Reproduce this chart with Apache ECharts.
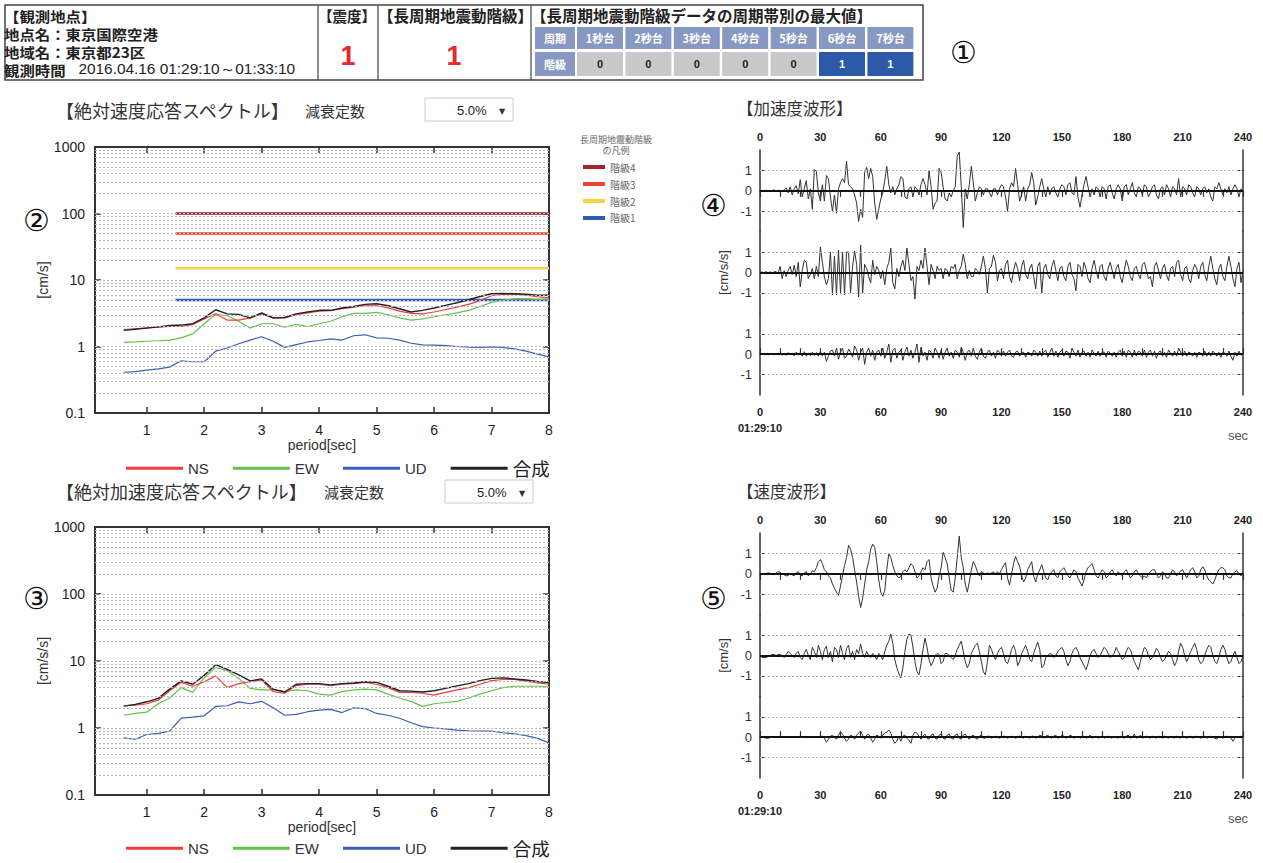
<!DOCTYPE html>
<html><head><meta charset="utf-8">
<script src="https://cdn.jsdelivr.net/npm/echarts@6/dist/echarts.min.js"></script>
<style>html,body{margin:0;padding:0;background:#fff}#c{width:1263px;height:863px}</style>
</head><body><div id="c"></div><script>
// ---------- data ----------
const periods = [0.6,0.8,1.0,1.2,1.4,1.6,1.8,2.0,2.2,2.4,2.6,2.8,3.0,3.2,3.4,3.6,3.8,4.0,4.2,4.4,4.6,4.8,5.0,5.2,5.4,5.6,5.8,6.0,6.2,6.4,6.6,6.8,7.0,7.2,7.4,7.6,7.8,8.0];
const velNS  = [1.8,1.85,1.9,1.95,2.0,2.0,2.15,2.6,3.1,2.5,2.5,2.7,3.1,2.7,2.7,3.0,3.2,3.4,3.45,3.7,3.9,4.1,4.1,3.8,3.4,3.15,3.1,3.3,3.6,3.9,4.3,4.9,5.8,6.1,6.1,5.9,5.6,5.4];
const velEW  = [1.15,1.17,1.2,1.22,1.25,1.35,1.55,2.2,3.05,2.9,2.4,1.9,2.2,2.2,1.95,2.15,2.0,2.2,2.4,2.8,3.15,3.15,3.25,3.0,2.7,2.5,2.6,2.8,3.0,3.2,3.5,4.0,4.6,5.0,5.2,5.2,5.1,5.1];
const velUD  = [0.41,0.42,0.44,0.46,0.49,0.61,0.59,0.59,0.85,0.95,1.1,1.25,1.4,1.2,0.97,1.07,1.17,1.23,1.3,1.25,1.45,1.5,1.35,1.33,1.25,1.12,1.06,1.05,1.03,1.0,0.98,0.97,0.99,0.97,0.92,0.85,0.77,0.7];
const velSum = [1.75,1.82,1.89,1.97,2.07,2.1,2.2,2.7,3.57,3.1,3.04,2.7,3.2,2.7,2.73,3.1,3.3,3.5,3.5,3.8,4.0,4.3,4.4,4.1,3.7,3.3,3.5,3.8,4.15,4.55,5.05,5.65,6.2,6.3,6.2,6.1,5.9,5.9];
const accNS  = [2.15,2.2,2.3,2.6,3.6,4.8,4.2,4.9,6.0,4.0,4.6,4.9,5.2,3.5,3.3,4.3,4.5,4.5,4.3,4.5,4.6,4.8,4.5,4.0,3.4,3.4,3.3,3.1,3.4,3.7,4.0,4.5,5.1,5.3,5.3,5.0,4.7,4.5];
const accEW  = [1.55,1.65,1.72,2.3,2.8,4.0,3.4,5.6,8.0,7.2,5.5,3.9,3.7,3.7,3.5,3.7,3.6,3.2,3.1,3.5,3.7,3.8,3.7,3.2,2.8,2.5,2.1,2.3,2.4,2.5,2.8,3.2,3.6,4.0,4.2,4.2,4.2,4.1];
const accUD  = [0.71,0.68,0.8,0.83,0.9,1.4,1.45,1.52,2.1,2.15,2.45,2.3,2.5,2.0,1.55,1.6,1.75,1.85,1.9,1.7,2.0,1.95,1.65,1.55,1.4,1.2,1.05,1.0,0.97,0.93,0.91,0.9,0.9,0.85,0.82,0.77,0.7,0.6];
const accSum = [2.12,2.25,2.46,2.77,3.8,5.05,4.5,6.1,8.8,7.5,6.2,5.05,5.4,3.8,3.45,4.5,4.6,4.6,4.4,4.6,4.7,4.9,4.8,4.2,3.6,3.55,3.45,3.6,3.9,4.25,4.6,5.1,5.5,5.6,5.4,5.2,4.95,4.75];

const levelNames  = ['階級4','階級3','階級2','階級1'];
const levelValues = [100,50,15,5];
const levelColors = ['#a3232f','#f2412f','#f6d545','#2f5db4'];
const levelFrom = 1.5, levelTo = 8;

const periodBands = ['1秒台','2秒台','3秒台','4秒台','5秒台','6秒台','7秒台'];
const bandLevels  = [0,0,0,0,0,1,1];
const shindo = '1';
const lpLevel = '1';

const logGridValues = [0.2,0.3,0.4,0.5,0.6,0.7,0.8,0.9,1,2,3,4,5,6,7,8,9,10,20,30,40,50,60,70,80,90,100,200,300,400,500,600,700,800,900];
const waveTicks = [-1,0,1];
const DT = 1; // seconds per sample

const accWave1 = [0,0.03,-0.02,0.04,0,-0.03,0.02,0.05,-0.02,0.03,
0,-0.04,0.05,0.15,-0.1,0.2,-0.2,0.1,0.25,-0.15,
0.55,-0.3,0.1,0.5,-0.4,0.1,-0.9,1.05,0.95,-0.1,
-0.5,0.3,-0.5,0.75,0.6,-0.3,-1.0,-0.2,-1.1,0.1,
0.4,0.6,0.4,1.45,0.3,0.2,0.1,-0.2,-0.6,-1.5,
-0.9,-1.3,0.9,1.15,0.6,1.1,0.7,-0.6,-1.4,-0.9,
-0.4,-0.1,0.5,1.2,0.3,-0.1,0.2,-0.2,0.1,0.3,
0.7,0.6,-0.3,-0.4,0.1,0.2,-0.3,0.2,0.1,-0.2,
0.3,0.6,0.3,-0.2,1.0,0.2,-0.9,-0.6,-0.5,1.1,
0.9,0.2,-0.4,-0.5,-0.1,-0.3,0,0.2,1.7,1.9,
0.2,-1.8,0.1,-0.4,0.3,1.2,0.4,-0.5,-0.1,0.2,
0.1,-0.2,0.1,0.1,-0.1,-0.3,0.1,0.1,-0.2,0.1,
0.3,
0.2,-0.3,-1.0,0.1,0.4,0.2,1.1,0.3,-0.5,-0.2,
0.2,-0.5,0.1,0.3,0.9,0.4,-0.7,-0.3,0.2,0.6,
0.1,-0.3,0.2,-0.2,0.1,0.2,-0.1,-0.3,0.1,0.3,
0.2,-0.2,0.3,0.4,-0.1,-0.2,0.7,-0.3,-0.8,-0.2,
0.3,0.7,0.2,-0.3,0.1,-0.2,0.2,0.1,-0.3,0.2,
0.1,-0.4,0.2,0.3,-0.1,-0.4,0.1,0.3,0.1,-0.5,
0.2,0.3,-0.2,0.1,0.4,-0.1,-0.3,0.2,0.1,-0.2,
0.3,0.2,-0.3,-0.1,0.2,0.3,-0.2,-0.4,0.1,0.2,
-0.2,0.3,0.1,-0.3,0.2,0.1,-0.2,0.6,-0.3,0.2,
0.1,-0.2,0.3,0.2,-0.1,-0.3,0.2,0.1,-0.2,0.1,
0.2,-0.1,0.1,-0.3,-0.5,0.2,0.1,0.4,0.1,-0.2,
0.1,-0.1,0.2,-0.2,0.1,0.3,0.1,-0.3,0.1,0];
const accWave2 = [0,0.03,-0.03,0.05,-0.02,0.04,-0.05,0.03,0.05,-0.05,
0.3,-0.3,0.1,-0.2,0.1,0.3,-0.1,0.35,-0.2,0.5,
-0.7,0.1,0.6,0.5,-0.3,-0.1,0.2,-0.3,0.3,-0.2,
1.25,0.5,-0.2,-0.6,-0.3,1.0,-1.1,0.8,-1.1,1.1,
-1.0,1.0,-1.1,1.0,1.0,-1.0,0.3,1.05,0.4,-1.2,
1.35,-1.0,0.4,0.2,-0.2,-0.5,0.6,-0.1,0.3,0.1,
-0.3,0.1,-0.6,0.2,0.5,1.2,-0.5,-0.8,0.2,-0.2,
0.3,0.6,0.1,1.2,0.4,-0.4,-0.2,-1.3,0.3,0.1,
0.6,0.2,1.2,0.3,-0.6,0.4,0.1,-0.3,0.3,0.1,
0.2,-0.3,0.2,0.1,-0.2,0.3,0.2,0.4,-0.3,0.1,
0.3,0.9,0.4,-0.3,0.1,-0.2,-0.2,0.2,0.1,-0.1,
0.3,0.8,0.2,-1.0,0.2,0.3,0.85,0.5,-0.4,0.1,
0.2,
-0.3,0.4,0.6,-0.2,-0.5,0.1,0.5,0.2,-0.4,0.3,
0.6,-0.1,-0.3,0.2,0.4,-0.2,-0.8,0.3,0.5,-1.0,
0.2,0.4,-0.1,-0.3,0.3,0.6,0.1,-0.4,0.2,0.3,
-0.2,-0.4,0.3,0.5,-0.1,-0.3,-0.9,0.4,0.3,-0.2,
0.5,0.2,-0.3,-0.5,0.2,0.6,0.1,-0.3,0.3,0.4,
-0.2,-0.4,0.2,0.5,0.1,-0.3,0.2,0.4,-0.2,-0.5,
0.1,0.6,0.3,-0.2,-0.4,0.2,0.3,-0.1,-0.3,0.4,
0.5,0.1,-0.3,-0.2,-0.7,0.3,0.5,0.1,-0.3,0.2,
0.4,-0.1,-0.4,0.2,0.3,-0.2,0.5,0.6,-0.1,-0.4,
0.2,0.3,-0.3,-0.5,0.1,0.4,0.2,-0.3,0.3,0.5,
-0.1,-0.4,0.3,0.8,0.2,-0.3,-0.6,0.2,0.4,-0.2,
-0.4,0.3,0.8,0.3,-0.3,-0.7,0.2,0.5,-0.5,0.1];
const accWave3 = [0,0.02,-0.03,0.02,-0.04,0.03,0,-0.03,0.04,-0.02,
0.03,-0.05,0.04,-0.06,0.08,-0.04,0.05,-0.08,0.1,-0.05,
0.08,-0.1,0.12,-0.1,0.06,-0.08,0.1,-0.06,0.08,-0.1,
0.12,-0.08,0.1,-0.35,-0.1,0.15,0.2,-0.1,0.3,-0.25,
0.1,0.3,-0.2,-0.1,0.25,0.1,-0.15,0.4,0.2,-0.3,
0.1,0.3,-0.5,0.1,0.3,-0.1,0.2,-0.3,0.1,0.2,
-0.1,0.3,-0.2,0.1,0.5,-0.4,0.2,0.3,-0.2,0.1,
0.2,-0.3,0.1,0.35,-0.1,0.2,-0.2,0.1,0.5,-0.4,
0.35,-0.1,0.1,-0.3,0.2,0.1,-0.2,0.3,0.1,-0.2,
0.2,-0.25,0.1,0.3,-0.1,0.1,-0.2,0.2,0.1,-0.15,
0.35,0.1,-0.3,0.1,0.2,-0.1,0.3,-0.1,-0.25,0.1,
0.3,-0.1,-0.2,0.1,0.2,-0.1,0.1,-0.2,0.2,0.1,
-0.1,
0.15,-0.1,0.1,0.2,-0.1,-0.15,0.1,0.15,-0.1,0.05,
0.1,-0.15,0.1,0.05,-0.1,0.2,0.1,-0.1,0.15,-0.1,
0.1,0.2,-0.15,0.1,0.3,-0.1,0.15,-0.15,0.1,0.2,
-0.1,0.15,0.1,-0.2,0.3,0.1,-0.1,0.2,-0.15,0.1,
0.15,-0.1,0.1,-0.15,0.2,0.05,-0.1,0.15,-0.1,0.1,
0.1,-0.15,0.15,0.05,-0.1,0.1,-0.15,0.1,0.2,-0.1,
0.15,-0.15,0.2,0.1,-0.15,0.2,-0.1,0.15,0.1,-0.1,
0.2,-0.15,0.1,0.2,-0.1,0.15,-0.2,0.1,0.15,-0.1,
0.1,-0.15,0.2,0.05,-0.1,0.15,-0.1,0.3,0.1,-0.1,
0.15,-0.1,0.1,0.05,-0.1,0.1,-0.15,0.1,0.05,-0.1,
0.15,-0.1,0.1,-0.1,0.15,0.05,-0.1,0.1,-0.15,0.1,
0.05,-0.1,0.15,-0.1,-0.3,0.1,-0.1,0.15,-0.05,0];
const velWave1 = [0,0,-0.02,0.02,0.05,0.03,-0.02,-0.05,0.05,0.1,
0.08,0,-0.05,-0.1,-0.08,0,-0.05,-0.1,0.05,0.1,
-0.05,-0.1,0.05,0.1,-0.1,0,0.15,0.1,0.3,0.6,
0.7,0.5,0.2,0.1,-0.1,-0.2,-0.5,-0.7,-0.9,-1.05,
-0.6,-0.1,0.4,0.8,1.4,1.2,0.8,0.2,-0.4,-1.1,
-1.65,-1.2,-0.5,0.2,0.6,1.2,1.45,1.3,0.6,-0.3,
-0.9,-1.1,-0.8,0.2,1.0,0.8,0.4,0.1,-0.1,-0.2,
-0.1,0.1,0.2,0.1,0.3,0.5,0.4,0.1,-0.2,-0.1,
0.1,0.3,0.2,0.6,0.7,-0.2,-0.6,-0.9,-0.7,-0.1,
0.3,1.05,0.8,0.5,-0.2,-0.8,-0.9,-0.2,0.8,1.85,
0.8,0.3,-0.5,-0.9,-0.4,0.2,0.6,0.4,0.1,-0.1,
0.1,0.05,-0.05,0.05,0,0.05,0.1,-0.05,0.1,0,
0.2,0.4,0.55,-0.2,-0.55,0,0.5,0.85,0.6,0.35,
-0.1,-0.4,-0.2,0.2,0.4,0.6,-0.1,-0.4,0,0.2,
0.45,0.1,-0.2,-0.3,0,0.1,0.2,-0.1,-0.2,0.1,
0.2,0.3,0.1,-0.1,-0.2,0,0.2,0.1,-0.2,-0.4,
-0.6,-0.3,0.1,0.3,0.4,0.5,0.2,-0.1,-0.2,0,
0.2,0.1,-0.2,-0.1,0.1,0.2,0,-0.1,0.1,0,
-0.1,0.1,0.2,0,-0.2,-0.1,0.1,0.2,0,-0.1,
-0.2,-0.1,-0.2,0,0.1,0.2,0.2,0,-0.2,-0.1,
0.1,0,-0.2,-0.2,0,0.2,0.1,-0.1,0,0.15,
0.2,0,-0.2,0,0.2,0.3,0.1,-0.2,-0.1,0.2,
0.35,0.2,-0.1,-0.3,-0.4,-0.5,-0.3,0,0.2,0.3,
0.3,0.2,-0.1,-0.2,-0.2,0,0.1,0.15,0,-0.1,0.1];
const velWave2 = [0,-0.1,-0.1,-0.1,-0.05,0,0.05,0.05,0,0.05,
0.05,0,-0.1,0.05,0.2,0.1,0,-0.1,0.1,0.2,
-0.1,-0.2,0.1,0.3,0,-0.2,0.4,0.2,-0.1,0.5,
0.2,-0.2,0.3,0.45,-0.1,0.2,-0.3,0.4,0.3,-0.1,
0.5,0.1,-0.2,0.35,0.5,-0.1,0.2,-0.2,0.3,0.1,
0.55,0.1,-0.1,0.2,0,-0.1,0.1,0,-0.2,0.1,
0,-0.2,0.2,0.5,0.7,1.05,0.6,-0.2,-0.6,-0.9,
-1.1,-0.6,0.2,0.8,1.05,1.0,0.4,-0.3,-0.8,-0.95,
-0.4,0.3,0.85,0.4,-0.2,-0.5,-0.3,0,0.1,0.05,
-0.4,-0.3,0.1,0.1,0,-0.1,-0.2,0,0.3,0.5,
0.7,0.2,-0.3,-0.6,-0.4,0.1,0.3,0.5,0.6,0.2,
-0.3,-0.8,-0.95,-0.3,0.5,0.3,0,-0.2,0.1,0.3,
0.4,0.1,-0.3,-0.4,-0.1,0.3,0.5,0.2,-0.5,-0.3,
0.1,0.3,0.5,0.2,-0.2,-0.3,0.1,0.4,0.65,0.3,
-0.6,-0.5,-0.1,0,0.1,0.05,-0.1,0,0.2,0.3,
0.4,0.2,-0.2,-0.5,-0.3,0.1,0.3,0.4,0.2,-0.1,
-0.3,-0.5,-0.7,-0.4,0,0.2,0.3,0.1,-0.1,0,
0.2,0.4,0.3,0.1,-0.1,0,0.1,0.4,0.2,0,
-0.2,-0.1,0.2,0.4,0.3,0,-0.3,-0.5,-0.7,-0.3,
0.1,0.4,0.3,0,-0.2,-0.1,0.1,0.35,0.2,-0.1,
-0.3,-0.2,0,0.2,0.1,-0.2,-0.5,-0.3,0.2,0.6,
0.4,0,-0.3,-0.1,0.2,0.4,0.6,0.3,-0.2,-0.4,
-0.3,0,0.3,0.5,0.4,0,-0.3,-0.4,-0.1,0.3,
0.5,0.3,-0.1,-0.4,-0.3,0,0.2,-0.1,-0.4,-0.3,0];
const velWave3 = [0,0,-0.02,-0.05,-0.05,-0.02,0,0.02,0,-0.02,
-0.02,0,0.02,0,-0.02,0,0.02,0.02,0,-0.02,
0,0.02,0,-0.03,0,0.03,0.02,0,-0.02,0,
0.03,0.05,-0.05,-0.25,-0.1,0.05,0.1,0,-0.1,0.1,
0.25,0.15,-0.05,-0.2,-0.1,0.1,0.05,-0.1,0.1,0.2,
0.3,0.1,-0.1,0.1,0.15,-0.05,-0.25,-0.1,0.1,0.05,
-0.05,0.1,0.2,0.25,0.35,0.2,-0.1,-0.3,-0.2,0.05,
-0.2,0.05,0.1,-0.05,-0.15,-0.3,0.1,0.25,0.2,0.05,
-0.1,0.05,0.15,-0.05,-0.1,0.1,0.15,-0.05,-0.1,0.1,
0.15,-0.05,-0.1,0.1,0.15,-0.05,-0.1,0.1,0.15,-0.05,
-0.1,0.1,0.15,0,-0.1,0.05,0.1,-0.05,-0.1,0.05,
0.1,-0.05,-0.05,0.05,0.05,-0.05,0,0.05,0,-0.05,
0,0.05,0.02,-0.05,0,0.05,0,-0.05,0,0.05,
0,-0.05,0.05,0,-0.05,0.05,0.05,-0.05,0,0.1,
0.05,-0.05,0.05,0.1,0,-0.05,0.05,0.1,-0.05,0,
0.1,0.05,-0.05,0,0.1,0.05,-0.05,0,0.05,-0.05,
0,0.05,-0.05,0,0.1,-0.05,0,0.05,-0.05,0,
0.05,-0.05,0,0.05,0,-0.05,0.05,0,-0.05,0.05,
0,-0.05,0.05,0.1,-0.05,0,0.15,-0.05,0,0.1,
-0.05,0,0.05,0,-0.05,0.05,0,-0.05,0.05,0,
-0.05,0.05,0,-0.05,0.05,0,-0.05,0.05,0,-0.05,
0.05,0,-0.05,0,0.05,-0.05,0,0.05,0,-0.05,
0,0.05,-0.05,0,0.05,0,-0.05,-0.1,0.05,0,
-0.05,0,0.05,0,-0.05,-0.2,-0.05,0.05,0,0.05,0];

// ---------- helpers ----------
const JP = '"Noto Sans CJK JP", sans-serif';
const LAT = '"Liberation Sans", Arial, sans-serif';
const specColors = {NS:'#f23b3b', EW:'#63c14b', UD:'#3a5cbd', '合成':'#222222'};
const pair = (xs, ys) => xs.map((x, i) => [x, ys[i]]);

const grids = [
  {left:95, top:147, width:454, height:266},
  {left:95, top:527, width:454, height:268}
];
const waveTop = [150, 533];
const waveH = 245 / 3;
for (let c = 0; c < 2; c++) for (let k = 0; k < 3; k++)
  grids.push({left:760, width:483, top: waveTop[c] + k * waveH, height: waveH});

const xAxes = [], yAxes = [];
const logLabel = v => (v < 1 ? String(v) : String(Math.round(v)));
function specAxes(g) {
  xAxes.push({gridIndex:g, type:'value', min:0.1, max:8, splitNumber:8, position:'bottom',
    name:'period[sec]', nameLocation:'middle', nameGap:24, nameTextStyle:{fontFamily:LAT, fontSize:14, color:'#333'},
    axisLine:{lineStyle:{color:'#333', width:2}}, axisTick:{inside:true, length:6, lineStyle:{color:'#333', width:1.5}},
    axisLabel:{fontFamily:LAT, fontSize:14, color:'#222', margin:10, showMinLabel:false}, splitLine:{show:false}});
  xAxes.push({gridIndex:g, type:'value', min:0.1, max:8, splitNumber:8, position:'top',
    axisLine:{lineStyle:{color:'#333', width:2}}, axisTick:{inside:true, length:6, lineStyle:{color:'#333', width:1.5}},
    axisLabel:{show:false}, splitLine:{show:false}});
  yAxes.push({gridIndex:g, type:'log', logBase:10, min:0.1, max:1000, position:'left',
    name: g === 0 ? '[cm/s]' : '[cm/s/s]', nameLocation:'middle', nameGap:44, nameRotate:90,
    nameTextStyle:{fontFamily:LAT, fontSize:14, color:'#333'},
    axisLine:{show:true, lineStyle:{color:'#333', width:2}}, axisTick:{inside:true, length:6, lineStyle:{color:'#333', width:1.5}},
    axisLabel:{fontFamily:LAT, fontSize:14, color:'#222', margin:10, formatter:logLabel}, splitLine:{show:false}});
  yAxes.push({gridIndex:g, type:'log', logBase:10, min:0.1, max:1000, position:'right',
    axisLine:{show:true, lineStyle:{color:'#333', width:2}}, axisTick:{inside:true, length:6, lineStyle:{color:'#333', width:1.5}},
    axisLabel:{show:false}, splitLine:{show:false}});
}
specAxes(0); specAxes(1);

for (let g = 2; g < 8; g++) {
  const k = (g - 2) % 3;
  const base = {gridIndex:g, type:'value', min:0, max:240, interval:30,
    axisLine:{lineStyle:{color:'#333', width:1.5}},
    axisTick:{inside:true, length:6, lineStyle:{color:'#333', width:1.2}},
    minorTick:{show:true, splitNumber:3, length:6, lineStyle:{color:'#333', width:1.2}},
    splitLine:{show:false}};
  if (k === 0) {
    xAxes.push(Object.assign(base, {position:'top',
      axisLabel:{fontFamily:LAT, fontSize:11, fontWeight:'bold', color:'#222', margin:8}}));
  } else if (k === 2) {
    xAxes.push(Object.assign(base, {position:'bottom',
      axisLabel:{margin:9, formatter: v => v === 0 ? '{a|0}\n{t|01:29:10}' : '{a|' + v + '}',
        rich:{a:{fontFamily:LAT, fontSize:11, fontWeight:'bold', color:'#222', lineHeight:16},
              t:{fontFamily:LAT, fontSize:11, fontWeight:'bold', color:'#222', lineHeight:16}}}}));
  } else {
    xAxes.push(Object.assign(base, {show:false}));
  }
}
for (let g = 2; g < 8; g++) {
  const k = (g - 2) % 3;
  yAxes.push({gridIndex:g, type:'value', min:-2, max:2, interval:1, position:'left',
    name: k === 1 ? (g < 5 ? '[cm/s/s]' : '[cm/s]') : '', nameLocation:'middle', nameGap:30, nameRotate:90,
    nameTextStyle:{fontFamily:LAT, fontSize:13, color:'#333'},
    axisLine:{show:true, lineStyle:{color:'#333', width:1.5}},
    axisTick:{inside:true, length:5, customValues:waveTicks, lineStyle:{color:'#333'}},
    axisLabel:{fontFamily:LAT, fontSize:13, color:'#333', margin:8, customValues:waveTicks},
    splitLine:{show:false}});
}
for (let g = 2; g < 8; g++) {
  yAxes.push({gridIndex:g, type:'value', min:-2, max:2, interval:1, position:'right',
    axisLine:{show:true, lineStyle:{color:'#333', width:1.5}},
    axisTick:{inside:true, length:5, customValues:waveTicks, lineStyle:{color:'#333'}},
    axisLabel:{show:false}, splitLine:{show:false}});
}

const series = [];
[0, 1].forEach(g => {
  series.push({type:'line', name:'grid' + g, xAxisIndex: g * 2, yAxisIndex: g * 2, data: [], z:1, silent:true,
    markLine:{silent:true, symbol:['none','none'], animation:false, label:{show:false},
      lineStyle:{type:[2,2], color:'#b9b9b9', width:1},
      data: logGridValues.map(v => ({yAxis: v}))}});
});
levelNames.forEach((n, i) => {
  series.push({type:'line', name:n, xAxisIndex:0, yAxisIndex:0, color:levelColors[i],
    data: [[levelFrom, levelValues[i]], [levelTo, levelValues[i]]],
    showSymbol:false, symbol:'none', lineStyle:{width:2.5, color:levelColors[i]}, z:2});
});
function specSeries(g, ns, ew, ud, sum) {
  const xi = g * 2, yi = g * 2;
  [['UD', ud], ['EW', ew], ['NS', ns], ['合成', sum]].forEach(([n, d]) => {
    series.push({type:'line', name:n, xAxisIndex:xi, yAxisIndex:yi, color:specColors[n],
      data: pair(periods, d), showSymbol:false, symbol:'none',
      lineStyle:{width: n === '合成' ? 1.4 : 1.2, color:specColors[n]}, z:3});
  });
}
specSeries(0, velNS, velEW, velUD, velSum);
specSeries(1, accNS, accEW, accUD, accSum);
const waves = [accWave1, accWave2, accWave3, velWave1, velWave2, velWave3];
waves.forEach((w, i) => {
  series.push({type:'line', name:'wave' + i, xAxisIndex: 4 + i, yAxisIndex: 4 + i,
    data: w.map((v, j) => [j * DT, v]), showSymbol:false, symbol:'none',
    lineStyle:{width:1, color:'#333'}, z:3,
    markLine:{silent:true, symbol:['none','none'], animation:false, label:{show:false},
      data:[{yAxis:0, lineStyle:{type:'solid', color:'#111', width:2}},
            {yAxis:1, lineStyle:{type:[2,2], color:'#b5b5b5', width:1}},
            {yAxis:-1, lineStyle:{type:[2,2], color:'#b5b5b5', width:1}}]}});
});

// ---------- graphics ----------
const gr = [];
function T(x, y, text, st, extra) {
  gr.push(Object.assign({type:'text', x, y, silent:true,
    style:Object.assign({text, fontFamily:JP, fontSize:14, fill:'#222', align:'left', verticalAlign:'middle'}, st || {})}, extra || {}));
}
function R(x, y, w, h, st) { gr.push({type:'rect', silent:true, shape:{x, y, width:w, height:h}, style:st}); }
function L(x1, y1, x2, y2, st) { gr.push({type:'line', silent:true, shape:{x1, y1, x2, y2}, style:st}); }

R(5, 5, 918, 75, {fill:'none', stroke:'#444', lineWidth:1.5});
L(318, 5, 318, 80, {stroke:'#444', lineWidth:1.2});
L(378, 5, 378, 80, {stroke:'#444', lineWidth:1.2});
L(531, 5, 531, 80, {stroke:'#444', lineWidth:1.2});
T(4, 42.5,
  '{b|【観測地点】}\n{b|地点名：東京国際空港}\n{b|地域名：東京都23区}\n{b|観測時間}{n|   2016.04.16 01:29:10～01:33:10}',
  {rich:{
    b:{fontFamily:JP, fontWeight:'bold', fontSize:14, lineHeight:18, fill:'#222'},
    n:{fontFamily:LAT, fontSize:14, lineHeight:18, fill:'#222'}}},
  {scaleX:1.1});
T(318, 15, '【震度】', {fontWeight:'bold', fontSize:14.5, lineHeight:17});
T(348, 56, shindo, {fontFamily:LAT, fontWeight:'bold', fontSize:27, fill:'#e8262b', align:'center'});
T(378, 15, '【長周期地震動階級】', {fontWeight:'bold', fontSize:15.5, lineHeight:17});
T(454, 56, lpLevel, {fontFamily:LAT, fontWeight:'bold', fontSize:27, fill:'#e8262b', align:'center'});
T(531, 15, '【長周期地震動階級データの周期帯別の最大値】', {fontWeight:'bold', fontSize:15.5, lineHeight:17});
const headFill = '#8799c3';
R(535, 27, 40, 22, {fill:headFill});
T(555, 38, '周期', {fontWeight:'bold', fontSize:11, fill:'#fff', align:'center'});
R(535, 52, 40, 24, {fill:headFill});
T(555, 64, '階級', {fontWeight:'bold', fontSize:11, fill:'#fff', align:'center'});
periodBands.forEach((b, i) => {
  const x = 577 + i * 48.4;
  R(x, 27, 46, 22, {fill:headFill});
  T(x + 23, 38, b, {fontWeight:'bold', fontSize:11, fill:'#fff', align:'center'});
  const on = bandLevels[i] > 0;
  R(x, 52, 46, 24, {fill: on ? '#2d5aa8' : '#c9c9c9'});
  T(x + 23, 64, String(bandLevels[i]), {fontFamily:LAT, fontWeight:'bold', fontSize:11, fill: on ? '#fff' : '#222', align:'center'});
});

const circ = {fontFamily:'"DejaVu Serif", serif', fontSize:30, fill:'#111', align:'center'};
T(963, 52, '①', circ);
T(36, 220, '②', circ);
T(36, 598, '③', circ);
T(713, 205, '④', circ);
T(713, 598, '⑤', circ);

T(56, 110, '【絶対速度応答スペクトル】', {fontSize:18, fill:'#333'});
T(305, 110, '減衰定数', {fontSize:15, fill:'#333'});
R(425, 98, 88, 23, {fill:'#fff', stroke:'#ccc', lineWidth:1});
T(457, 110, '5.0%', {fontFamily:LAT, fontSize:13, fill:'#222'});
T(502, 111, '▼', {fontFamily:'"DejaVu Sans"', fontSize:8, fill:'#333', align:'center'});
T(56, 491, '【絶対加速度応答スペクトル】', {fontSize:18, fill:'#333'});
T(324, 491, '減衰定数', {fontSize:15, fill:'#333'});
R(445, 480, 88, 23, {fill:'#fff', stroke:'#ccc', lineWidth:1});
T(477, 492, '5.0%', {fontFamily:LAT, fontSize:13, fill:'#222'});
T(522, 493, '▼', {fontFamily:'"DejaVu Sans"', fontSize:8, fill:'#333', align:'center'});
T(737, 108, '【加速度波形】', {fontSize:16.5, fill:'#333'});
T(737, 491, '【速度波形】', {fontSize:16.5, fill:'#333'});
T(1238, 435, 'sec', {fontFamily:LAT, fontSize:13, fill:'#555', align:'center'});
T(1238, 818, 'sec', {fontFamily:LAT, fontSize:13, fill:'#555', align:'center'});
T(616, 145, '長周期地震動階級\nの凡例', {fontSize:9, fill:'#666', align:'center', lineHeight:11});

const specLegend = (top) => ({
  data:['NS','EW','UD','合成'], left:121, top, icon:'rect', itemWidth:57, itemHeight:3, itemGap:24,
  selectedMode:false,
  formatter: n => n === '合成' ? '{b|合成}' : n,
  textStyle:{fontFamily:LAT, fontSize:15, color:'#333', lineHeight:18,
    rich:{b:{fontFamily:JP, fontSize:18.5, color:'#222', lineHeight:18}}}
});

const option = {
  animation:false,
  backgroundColor:'#fff',
  textStyle:{fontFamily:LAT},
  grid: grids,
  xAxis: xAxes,
  yAxis: yAxes,
  legend: [
    specLegend(454),
    specLegend(834),
    {data:levelNames, orient:'vertical', left:578, top:157, icon:'rect', itemWidth:22, itemHeight:4, itemGap:7,
     selectedMode:false, textStyle:{fontFamily:JP, fontSize:10, color:'#666'}}
  ],
  series,
  graphic: gr
};
const chart = echarts.init(document.getElementById('c'), null, {renderer:'svg', width:1263, height:863});
chart.setOption(option);
</script></body></html>
